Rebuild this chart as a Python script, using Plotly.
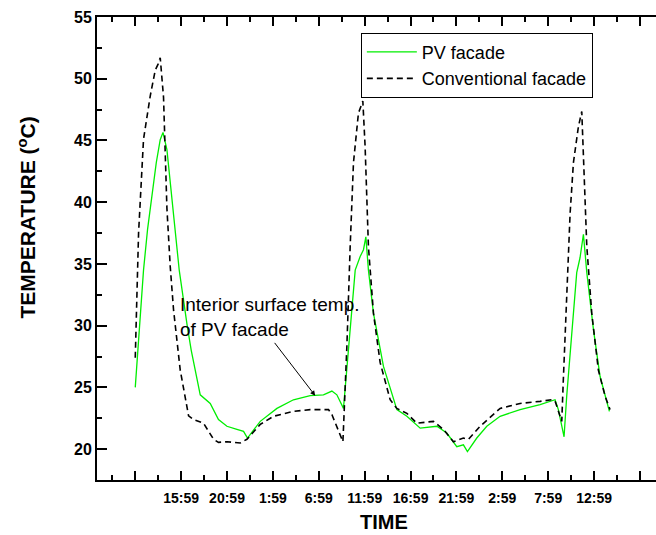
import plotly.graph_objects as go

# Time in hours after 10:59 on day 1
conv_time = [0.00, 0.36, 0.90, 1.63, 2.18, 2.50, 2.72, 3.08, 3.45, 3.81, 4.17, 4.90, 5.81,
             6.35, 7.44, 8.53, 9.07, 9.99, 11.44, 12.17, 13.62, 15.07, 17.24, 19.06, 21.06,
             21.43, 22.63, 23.06, 23.42, 23.78, 24.32, 24.80, 25.05, 25.41, 25.96, 26.69,
             27.78, 28.51, 29.60, 30.69, 32.49, 33.58, 34.67, 35.76, 36.31, 37.58, 39.76,
             41.94, 44.12, 45.39, 45.75, 46.48, 46.65, 47.02, 47.39, 47.75, 48.29, 48.66,
             48.84, 49.21, 49.75, 50.47, 51.20, 51.74]
conv_temp = [27.4, 37.5, 45.1, 48.6, 50.7, 51.2, 51.7, 48.5, 39.5, 34.8, 31.3, 26.4, 22.7,
             22.4, 22.1, 20.8, 20.55, 20.6, 20.5, 20.8, 22.0, 22.66, 23.06, 23.2, 23.2,
             22.8, 20.6, 28.3, 36.4, 43.2, 47.2, 48.2, 44.5, 36.4, 31.0, 27.0,
             24.0, 23.3, 22.9, 22.1, 22.25, 21.6, 20.6, 20.9, 20.8, 21.85, 23.3,
             23.7, 23.87, 24.0, 23.9, 22.25, 25.6, 32.4, 39.1, 43.2, 46.1, 47.35,
             43.2, 36.4, 31.0, 26.4, 24.3, 23.2]

pv_time = [0.00, 0.54, 0.90, 1.34, 1.99, 2.29, 2.72, 3.02, 3.45, 4.17, 4.79, 5.66, 6.10,
           7.08, 8.17, 9.07, 9.99, 11.08, 11.80, 12.23, 13.62, 15.44, 17.24, 19.06, 20.51,
           21.43, 21.97, 22.69, 23.24, 23.61, 23.97, 24.51, 24.87, 25.13, 25.41, 25.96,
           27.05, 28.51, 29.60, 31.05, 32.87, 33.95, 35.04, 35.76, 36.20, 37.22, 38.31,
           39.76, 41.94, 44.12, 45.39, 45.75, 46.11, 46.73, 47.02, 47.57, 48.11, 48.47,
           48.84, 49.21, 49.93, 50.65, 51.20, 51.67]
pv_temp = [25.0, 30.7, 34.5, 37.8, 41.55, 43.2, 45.06, 45.65, 44.25, 39.1, 34.5, 30.0, 28.0,
           24.4, 23.7, 22.4, 21.85, 21.6, 21.44, 20.9, 22.25, 23.3, 24.0, 24.33, 24.4,
           24.7, 24.4, 23.3, 28.3, 31.6, 34.5, 35.6, 36.15, 37.2, 34.5, 31.0,
           26.7, 23.2, 22.66, 21.7, 21.85, 21.3, 20.2, 20.35, 19.8, 20.9, 21.85,
           22.66, 23.2, 23.6, 23.9, 24.0, 23.2, 21.0, 24.3, 29.7, 34.3, 35.5,
           37.4, 34.3, 29.7, 25.9, 24.3, 23.06]

x_tickvals = [0, 5, 10, 15, 20, 25, 30, 35, 40, 45, 50, 55]
x_ticktext = ["", "15:59", "20:59", "1:59", "6:59", "11:59", "16:59", "21:59", "2:59",
              "7:59", "12:59", ""]
y_tickvals = [20, 25, 30, 35, 40, 45, 50, 55]

FONT = "Liberation Sans, Arial, sans-serif"

fig = go.Figure()
fig.add_trace(go.Scatter(x=pv_time, y=pv_temp, mode="lines", name="PV facade",
                         line=dict(color="#00ee00", width=1.3)))
fig.add_trace(go.Scatter(x=conv_time, y=conv_temp, mode="lines", name="Conventional facade",
                         line=dict(color="black", width=1.6, dash="6px,4px")))

fig.update_layout(
    width=656, height=535,
    margin=dict(l=97, r=0, t=17, b=55),
    paper_bgcolor="white", plot_bgcolor="white",
    font=dict(family=FONT, color="black"),
    showlegend=True,
    legend=dict(x=0.472, y=0.966, xanchor="left", yanchor="top",
                bordercolor="black", borderwidth=1, bgcolor="white",
                font=dict(size=18, family=FONT), tracegroupgap=0,
                itemwidth=50),
    xaxis=dict(range=[-4.17, 56.75], tickmode="array", tickvals=x_tickvals,
               ticktext=x_ticktext, ticks="inside", ticklen=9, tickwidth=1.5,
               tickcolor="black", showline=True, linecolor="black", linewidth=2,
               mirror="ticks", showgrid=False, zeroline=False, ticklabelstandoff=4,
               tickfont=dict(size=14, family=FONT, weight="bold"),
               minor=dict(tick0=2.5, dtick=5, ticks="inside", ticklen=5,
                          tickwidth=1.5, tickcolor="black", showgrid=False)),
    yaxis=dict(range=[17.5, 55], tickmode="array", tickvals=y_tickvals,
               ticks="inside", ticklen=10, tickwidth=1.5, tickcolor="black",
               showline=True, linecolor="black", linewidth=2, mirror=False,
               showgrid=False, zeroline=False,
               tickfont=dict(size=16, family=FONT, weight="bold"),
               minor=dict(tick0=17.5, dtick=5, ticks="inside", ticklen=5,
                          tickwidth=1.5, tickcolor="black", showgrid=False)),
    annotations=[
        dict(xref="paper", yref="paper", x=0.5137, y=-0.1195, text="TIME",
             showarrow=False, xanchor="center", yanchor="bottom",
             font=dict(size=20, family=FONT, weight="bold")),
        dict(xref="paper", yref="paper", x=-0.126, y=0.566,
             text="TEMPERATURE (<sup>o</sup>C)", textangle=-90,
             showarrow=False, xanchor="center", yanchor="middle",
             font=dict(size=21, family=FONT, weight="bold")),
        dict(xref="paper", yref="paper", x=0.145, y=0.352, align="left",
             text="Interior surface temp.<br>of PV facade", showarrow=False,
             xanchor="left", yanchor="middle", font=dict(size=19, family=FONT)),
        dict(xref="x", yref="y", x=19.61, y=24.33, ax=-41.7, ay=-54.3, text="",
             showarrow=True, arrowhead=2, arrowsize=1, arrowwidth=1,
             arrowcolor="black"),
    ],
)

fig.write_html("out.html")
